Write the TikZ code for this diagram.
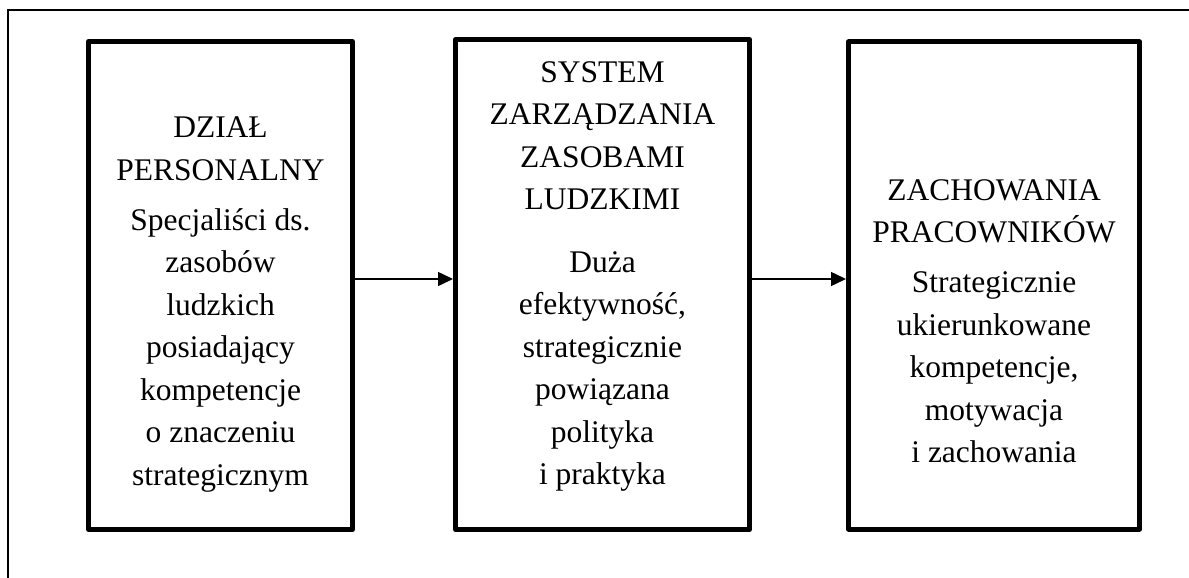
\documentclass[tikz,border=0pt]{standalone}
\usepackage{fontspec}
\setmainfont{Liberation Serif}
\usetikzlibrary{arrows.meta}
\begin{document}
\begin{tikzpicture}[x=1pt,y=-1pt,
  stagebox/.style={draw=black, line width=5pt, rectangle, inner sep=0pt, line join=round},
  stagetext/.style={anchor=north, inner sep=0pt, align=center,
    font=\fontsize{31.5}{42.5}\selectfont},
  flow/.style={line width=1.5pt, -{Triangle[length=15pt,width=14pt]}},
  frame/.style={line width=1.3pt}]
\useasboundingbox (0,0) rectangle (1189,578);
% partial outer frame (top and left edges)
\coordinate (fl) at (8,578);
\coordinate (fc) at (8,10);
\coordinate (fr) at (1189,10);
\draw[frame] (fl) -- (fc) -- (fr);
% the three stages
\node[stagebox, minimum width=264pt, minimum height=488pt] (b1) at (220.5,285.5) {};
\node[stagebox, minimum width=294pt, minimum height=490pt] (b2) at (602.5,284.5) {};
\node[stagebox, minimum width=291pt, minimum height=487pt] (b3) at (994,285.5) {};
% texts
\node[stagetext] (t1) at (220.5,117) {DZIAŁ\\PERSONALNY\\[7.5pt]Specjaliści ds.\\zasobów\\ludzkich\\posiadający\\kompetencje\\o znaczeniu\\strategicznym};
\node[stagetext] (t2) at (602.5,61) {SYSTEM\\ZARZĄDZANIA\\ZASOBAMI\\LUDZKIMI\\[20pt]Duża\\efektywność,\\strategicznie\\powiązana\\polityka\\i praktyka};
\node[stagetext] (t3) at (994,179) {ZACHOWANIA\\PRACOWNIKÓW\\[7.5pt]Strategicznie\\ukierunkowane\\kompetencje,\\motywacja\\i zachowania};
% connectors
\coordinate (ay) at (0,279);
\draw[flow] (b1.east |- ay) -- (b2.west |- ay);
\draw[flow] (b2.east |- ay) -- (b3.west |- ay);
\end{tikzpicture}
\end{document}
